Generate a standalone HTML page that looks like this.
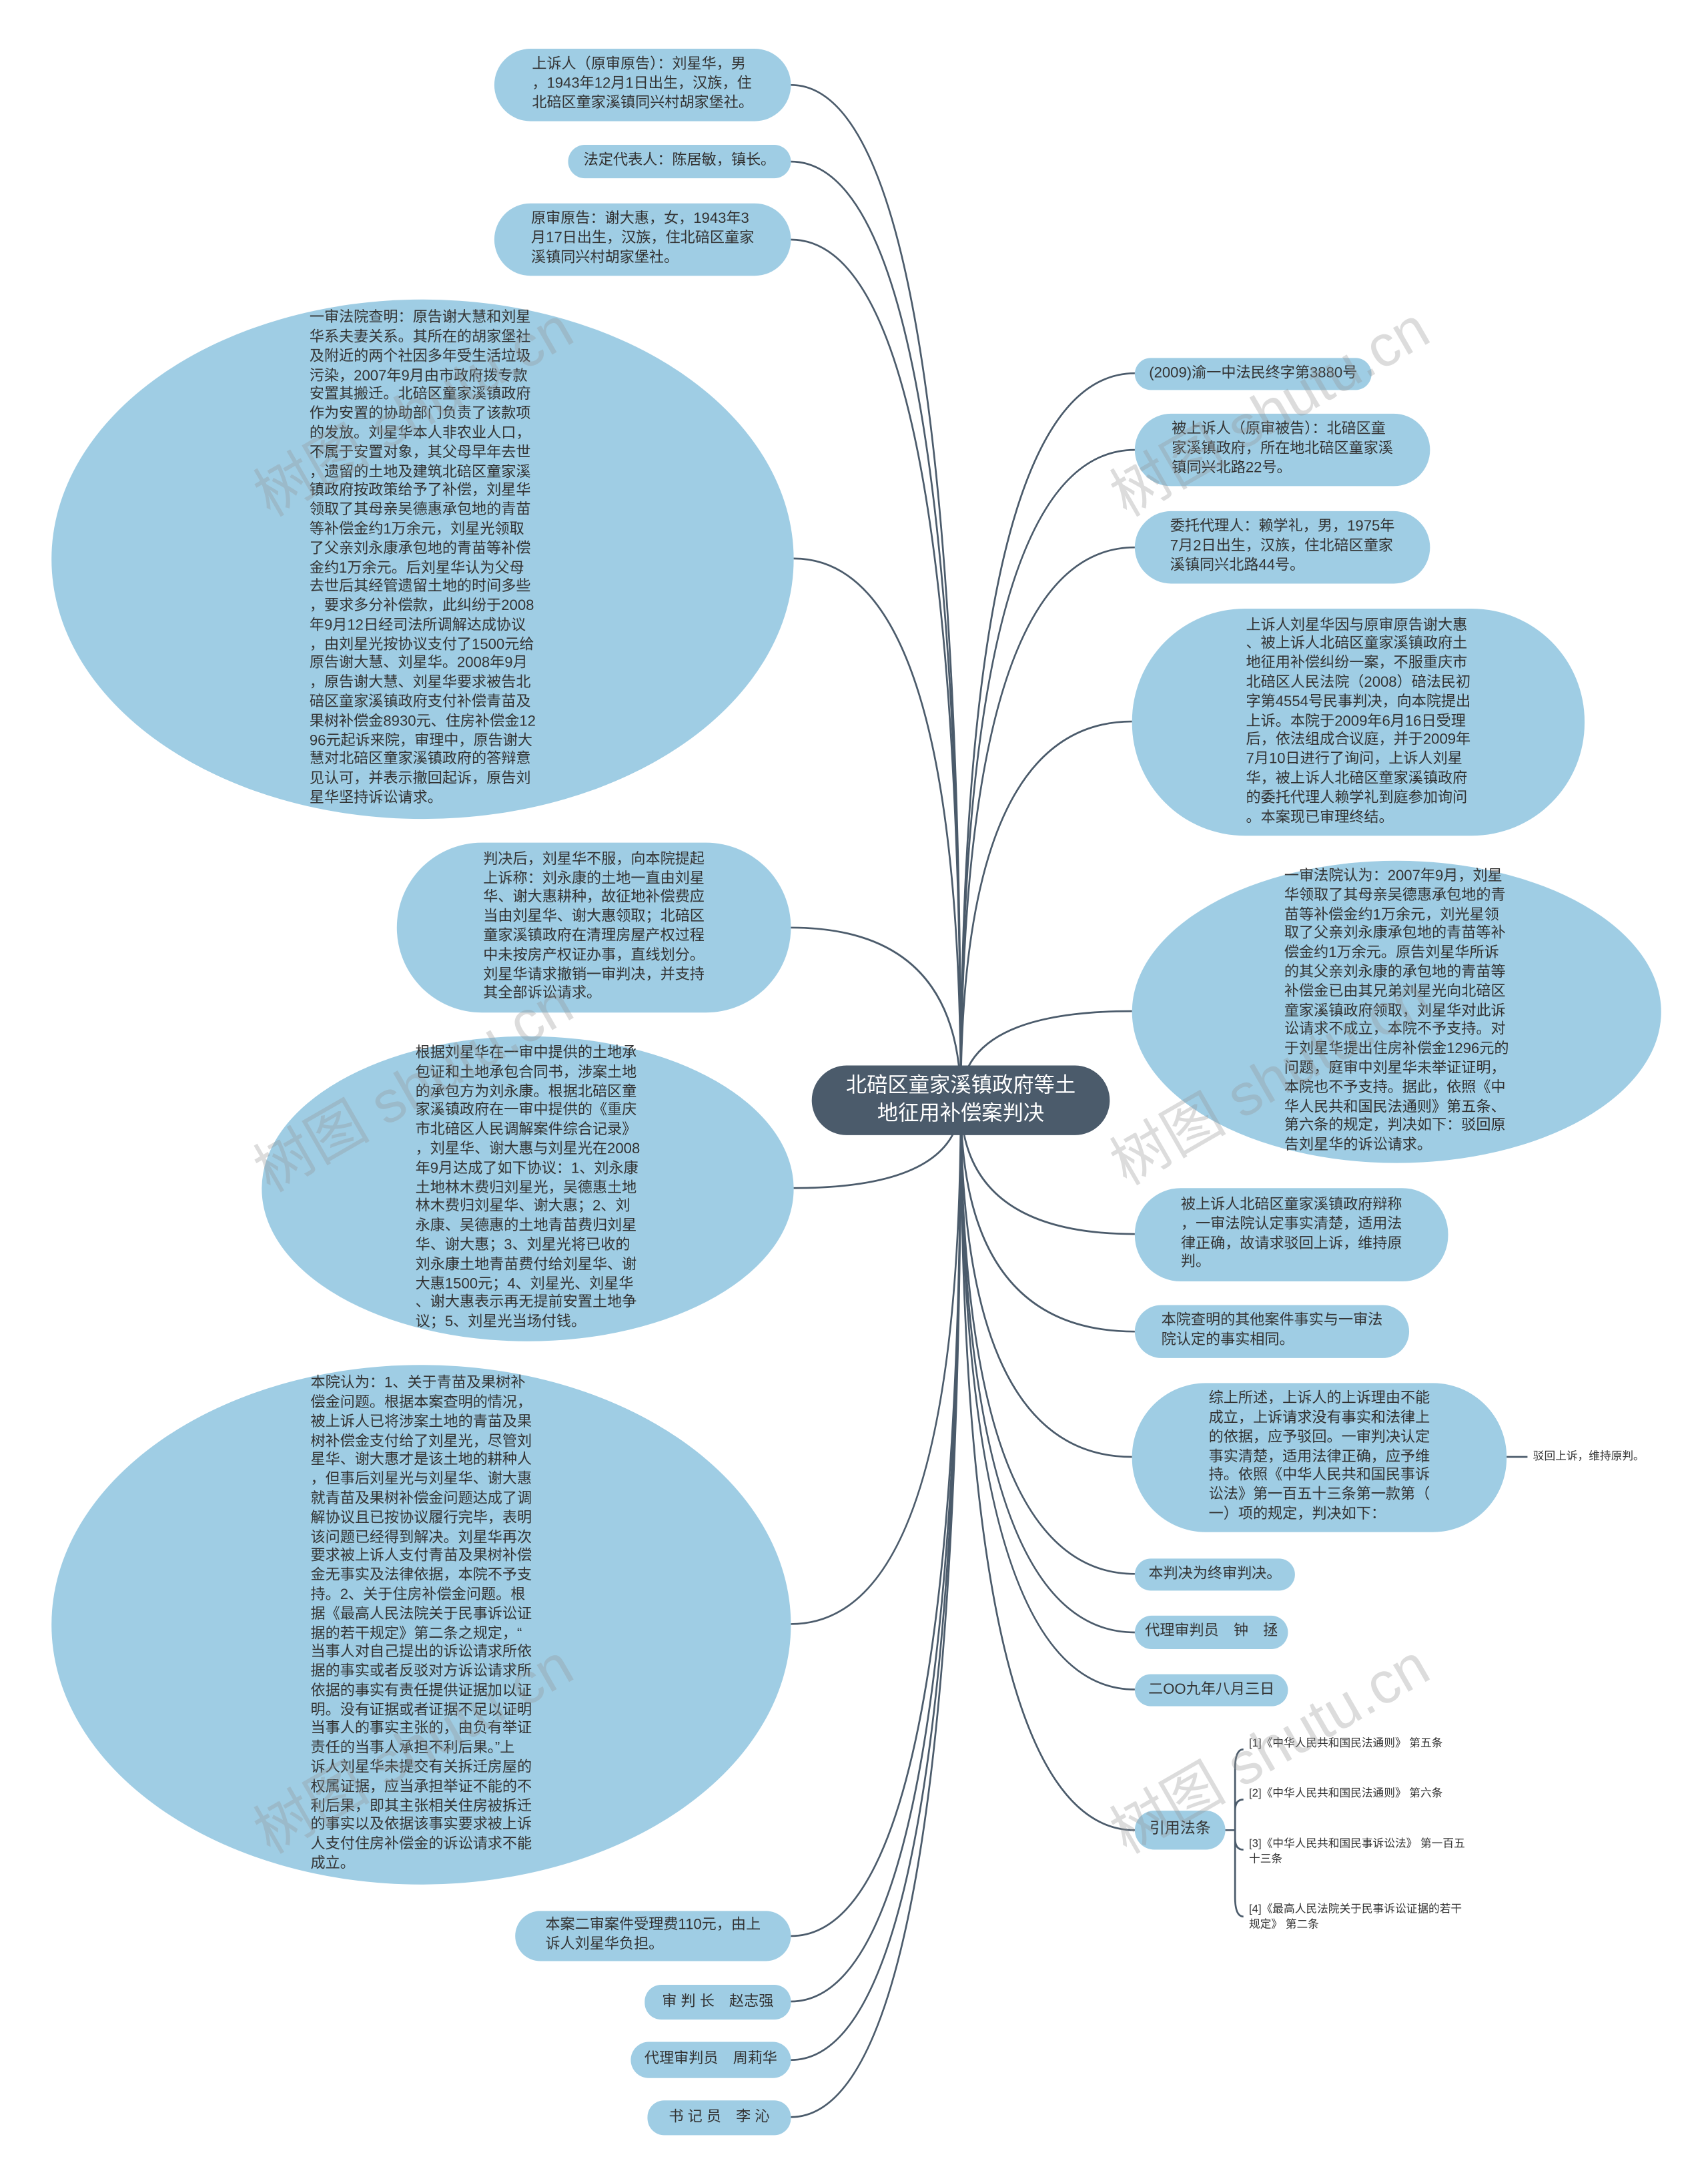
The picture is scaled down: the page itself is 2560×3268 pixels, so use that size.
<!DOCTYPE html>
<html><head><meta charset="utf-8"><style>
html,body{margin:0;padding:0;background:#fff;}
body{width:2560px;height:3267px;overflow:hidden;position:relative;}
#s{position:absolute;left:0;top:0;width:1227px;height:1566px;transform:scale(2.087);transform-origin:0 0;font-family:"Liberation Sans","Noto Sans CJK SC",sans-serif;}
.n{position:absolute;background:#9fcde4;display:flex;align-items:center;justify-content:center;box-sizing:border-box;font-size:10.6px;line-height:13.8px;color:#333;white-space:nowrap;}
.n div{text-align:left;}
.p{border-radius:14px;}
.e{border-radius:50%;}
.t{position:absolute;font-size:8px;line-height:10.5px;color:#333;white-space:nowrap;}
.w{position:absolute;font-size:42px;color:rgba(150,150,150,0.33);transform:rotate(-30deg);white-space:nowrap;transform-origin:0 0;}
#root{position:absolute;left:583px;top:765px;width:214px;height:50px;background:#4b5b6b;border-radius:25px;color:#fff;font-size:15px;line-height:20px;display:flex;align-items:center;justify-content:center;text-align:center;}
svg{position:absolute;left:0;top:0;}
</style></head><body><div id="s">
<svg width="1227" height="1566" fill="none" stroke="#4b5b6b" stroke-width="1.3">
<path d="M690 790 Q690 61 568 61"/>
<path d="M690 790 Q690 116 568 116"/>
<path d="M690 790 Q690 172 568 172"/>
<path d="M690 790 Q690 401 570 401"/>
<path d="M690 790 Q690 666 568 666"/>
<path d="M690 790 Q690 853 570 853"/>
<path d="M690 790 Q690 1166 568 1166"/>
<path d="M690 790 Q690 1390 568 1390"/>
<path d="M690 790 Q690 1437 568 1437"/>
<path d="M690 790 Q690 1479 568 1479"/>
<path d="M690 790 Q690 1520 568 1520"/>
<path d="M690 790 Q690 268 815 268"/>
<path d="M690 790 Q690 323 815 323"/>
<path d="M690 790 Q690 393 815 393"/>
<path d="M690 790 Q690 518 813 518"/>
<path d="M690 790 Q690 726 813 726"/>
<path d="M690 790 Q690 886 815 886"/>
<path d="M690 790 Q690 956 815 956"/>
<path d="M690 790 Q690 1046 813 1046"/>
<path d="M690 790 Q690 1130 815 1130"/>
<path d="M690 790 Q690 1172 815 1172"/>
<path d="M690 790 Q690 1213 815 1213"/>
<path d="M690 790 Q690 1314 815 1314"/>
<path d="M1082 1046 L1097 1046"/>
<path d="M880 1314 L887 1314 M893 1256 Q887 1256 887 1270 L887 1362 Q887 1376 893 1376 M887 1300 Q887 1292 893 1292 M887 1320 Q887 1328 893 1328"/>
</svg>
<div class="n p" style="left:355px;top:35px;width:213px;height:52px;border-radius:26px"><div>上诉人（原审原告）：刘星华，男<br>，1943年12月1日出生，汉族，住<br>北碚区童家溪镇同兴村胡家堡社。</div></div>
<div class="n p" style="left:408px;top:104px;width:160px;height:24px;border-radius:12px"><div>法定代表人：陈居敏，镇长。</div></div>
<div class="n p" style="left:355px;top:146px;width:213px;height:52px;border-radius:26px"><div>原审原告：谢大惠，女，1943年3<br>月17日出生，汉族，住北碚区童家<br>溪镇同兴村胡家堡社。</div></div>
<div class="n e" style="left:37px;top:215px;width:533px;height:373px"><div>一审法院查明：原告谢大慧和刘星<br>华系夫妻关系。其所在的胡家堡社<br>及附近的两个社因多年受生活垃圾<br>污染，2007年9月由市政府拨专款<br>安置其搬迁。北碚区童家溪镇政府<br>作为安置的协助部门负责了该款项<br>的发放。刘星华本人非农业人口，<br>不属于安置对象，其父母早年去世<br>，遗留的土地及建筑北碚区童家溪<br>镇政府按政策给予了补偿，刘星华<br>领取了其母亲吴德惠承包地的青苗<br>等补偿金约1万余元，刘星光领取<br>了父亲刘永康承包地的青苗等补偿<br>金约1万余元。后刘星华认为父母<br>去世后其经管遗留土地的时间多些<br>，要求多分补偿款，此纠纷于2008<br>年9月12日经司法所调解达成协议<br>，由刘星光按协议支付了1500元给<br>原告谢大慧、刘星华。2008年9月<br>，原告谢大慧、刘星华要求被告北<br>碚区童家溪镇政府支付补偿青苗及<br>果树补偿金8930元、住房补偿金12<br>96元起诉来院，审理中，原告谢大<br>慧对北碚区童家溪镇政府的答辩意<br>见认可，并表示撤回起诉，原告刘<br>星华坚持诉讼请求。</div></div>
<div class="n" style="left:285px;top:605px;width:283px;height:122px;border-radius:61px"><div>判决后，刘星华不服，向本院提起<br>上诉称：刘永康的土地一直由刘星<br>华、谢大惠耕种，故征地补偿费应<br>当由刘星华、谢大惠领取；北碚区<br>童家溪镇政府在清理房屋产权过程<br>中未按房产权证办事，直线划分。<br>刘星华请求撤销一审判决，并支持<br>其全部诉讼请求。</div></div>
<div class="n e" style="left:188px;top:744px;width:382px;height:219px"><div>根据刘星华在一审中提供的土地承<br>包证和土地承包合同书，涉案土地<br>的承包方为刘永康。根据北碚区童<br>家溪镇政府在一审中提供的《重庆<br>市北碚区人民调解案件综合记录》<br>，刘星华、谢大惠与刘星光在2008<br>年9月达成了如下协议：1、刘永康<br>土地林木费归刘星光，吴德惠土地<br>林木费归刘星华、谢大惠；2、刘<br>永康、吴德惠的土地青苗费归刘星<br>华、谢大惠；3、刘星光将已收的<br>刘永康土地青苗费付给刘星华、谢<br>大惠1500元；4、刘星光、刘星华<br>、谢大惠表示再无提前安置土地争<br>议；5、刘星光当场付钱。</div></div>
<div class="n e" style="left:37px;top:980px;width:531px;height:373px"><div>本院认为：1、关于青苗及果树补<br>偿金问题。根据本案查明的情况，<br>被上诉人已将涉案土地的青苗及果<br>树补偿金支付给了刘星光，尽管刘<br>星华、谢大惠才是该土地的耕种人<br>，但事后刘星光与刘星华、谢大惠<br>就青苗及果树补偿金问题达成了调<br>解协议且已按协议履行完毕，表明<br>该问题已经得到解决。刘星华再次<br>要求被上诉人支付青苗及果树补偿<br>金无事实及法律依据，本院不予支<br>持。2、关于住房补偿金问题。根<br>据《最高人民法院关于民事诉讼证<br>据的若干规定》第二条之规定，“<br>当事人对自己提出的诉讼请求所依<br>据的事实或者反驳对方诉讼请求所<br>依据的事实有责任提供证据加以证<br>明。没有证据或者证据不足以证明<br>当事人的事实主张的，由负有举证<br>责任的当事人承担不利后果。”上<br>诉人刘星华未提交有关拆迁房屋的<br>权属证据，应当承担举证不能的不<br>利后果，即其主张相关住房被拆迁<br>的事实以及依据该事实要求被上诉<br>人支付住房补偿金的诉讼请求不能<br>成立。</div></div>
<div class="n" style="left:370px;top:1372px;width:198px;height:36px;border-radius:18px"><div>本案二审案件受理费110元，由上<br>诉人刘星华负担。</div></div>
<div class="n" style="left:463px;top:1425px;width:105px;height:25px;border-radius:12px"><div>审 判 长　赵志强</div></div>
<div class="n" style="left:453px;top:1466px;width:115px;height:26px;border-radius:13px"><div>代理审判员　周莉华</div></div>
<div class="n" style="left:465px;top:1508px;width:103px;height:25px;border-radius:12px"><div>书 记 员　李 沁</div></div>

<div class="n" style="left:815px;top:257px;width:170px;height:23px;border-radius:12px"><div>(2009)渝一中法民终字第3880号</div></div>
<div class="n" style="left:815px;top:297px;width:212px;height:52px;border-radius:26px"><div>被上诉人（原审被告）：北碚区童<br>家溪镇政府，所在地北碚区童家溪<br>镇同兴北路22号。</div></div>
<div class="n" style="left:815px;top:367px;width:212px;height:52px;border-radius:26px"><div>委托代理人：赖学礼，男，1975年<br>7月2日出生，汉族，住北碚区童家<br>溪镇同兴北路44号。</div></div>
<div class="n" style="left:813px;top:437px;width:325px;height:163px;border-radius:81px"><div>上诉人刘星华因与原审原告谢大惠<br>、被上诉人北碚区童家溪镇政府土<br>地征用补偿纠纷一案，不服重庆市<br>北碚区人民法院（2008）碚法民初<br>字第4554号民事判决，向本院提出<br>上诉。本院于2009年6月16日受理<br>后，依法组成合议庭，并于2009年<br>7月10日进行了询问，上诉人刘星<br>华，被上诉人北碚区童家溪镇政府<br>的委托代理人赖学礼到庭参加询问<br>。本案现已审理终结。</div></div>
<div class="n e" style="left:813px;top:618px;width:380px;height:217px"><div>一审法院认为：2007年9月，刘星<br>华领取了其母亲吴德惠承包地的青<br>苗等补偿金约1万余元，刘光星领<br>取了父亲刘永康承包地的青苗等补<br>偿金约1万余元。原告刘星华所诉<br>的其父亲刘永康的承包地的青苗等<br>补偿金已由其兄弟刘星光向北碚区<br>童家溪镇政府领取，刘星华对此诉<br>讼请求不成立，本院不予支持。对<br>于刘星华提出住房补偿金1296元的<br>问题，庭审中刘星华未举证证明，<br>本院也不予支持。据此，依照《中<br>华人民共和国民法通则》第五条、<br>第六条的规定，判决如下：驳回原<br>告刘星华的诉讼请求。</div></div>
<div class="n" style="left:815px;top:853px;width:225px;height:67px;border-radius:33px"><div>被上诉人北碚区童家溪镇政府辩称<br>，一审法院认定事实清楚，适用法<br>律正确，故请求驳回上诉，维持原<br>判。</div></div>
<div class="n" style="left:815px;top:937px;width:197px;height:38px;border-radius:19px"><div>本院查明的其他案件事实与一审法<br>院认定的事实相同。</div></div>
<div class="n" style="left:813px;top:993px;width:269px;height:107px;border-radius:53px"><div>综上所述，上诉人的上诉理由不能<br>成立，上诉请求没有事实和法律上<br>的依据，应予驳回。一审判决认定<br>事实清楚，适用法律正确，应予维<br>持。依照《中华人民共和国民事诉<br>讼法》第一百五十三条第一款第（<br>一）项的规定，判决如下：</div></div>
<div class="t" style="left:1101px;top:1041px">驳回上诉，维持原判。</div>
<div class="n" style="left:815px;top:1119px;width:115px;height:23px;border-radius:12px"><div>本判决为终审判决。</div></div>
<div class="n" style="left:815px;top:1160px;width:110px;height:24px;border-radius:12px"><div>代理审判员　钟　拯</div></div>
<div class="n" style="left:815px;top:1202px;width:110px;height:23px;border-radius:12px"><div>二OO九年八月三日</div></div>
<div class="n" style="left:815px;top:1300px;width:65px;height:28px;border-radius:14px;font-size:11px"><div>引用法条</div></div>
<div class="t" style="left:897px;top:1247px">[1]《中华人民共和国民法通则》 第五条</div>
<div class="t" style="left:897px;top:1283px">[2]《中华人民共和国民法通则》 第六条</div>
<div class="t" style="left:897px;top:1319px">[3]《中华人民共和国民事诉讼法》 第一百五<br>十三条</div>
<div class="t" style="left:897px;top:1366px">[4]《最高人民法院关于民事诉讼证据的若干<br>规定》 第二条</div>

<div id="root">北碚区童家溪镇政府等土<br>地征用补偿案判决</div>

<div class="w" style="left:170px;top:330px">树图 shutu.cn</div>
<div class="w" style="left:785px;top:330px">树图 shutu.cn</div>
<div class="w" style="left:170px;top:815px">树图 shutu.cn</div>
<div class="w" style="left:785px;top:810px">树图 shutu.cn</div>
<div class="w" style="left:170px;top:1290px">树图 shutu.cn</div>
<div class="w" style="left:785px;top:1290px">树图 shutu.cn</div>
</div></body></html>
